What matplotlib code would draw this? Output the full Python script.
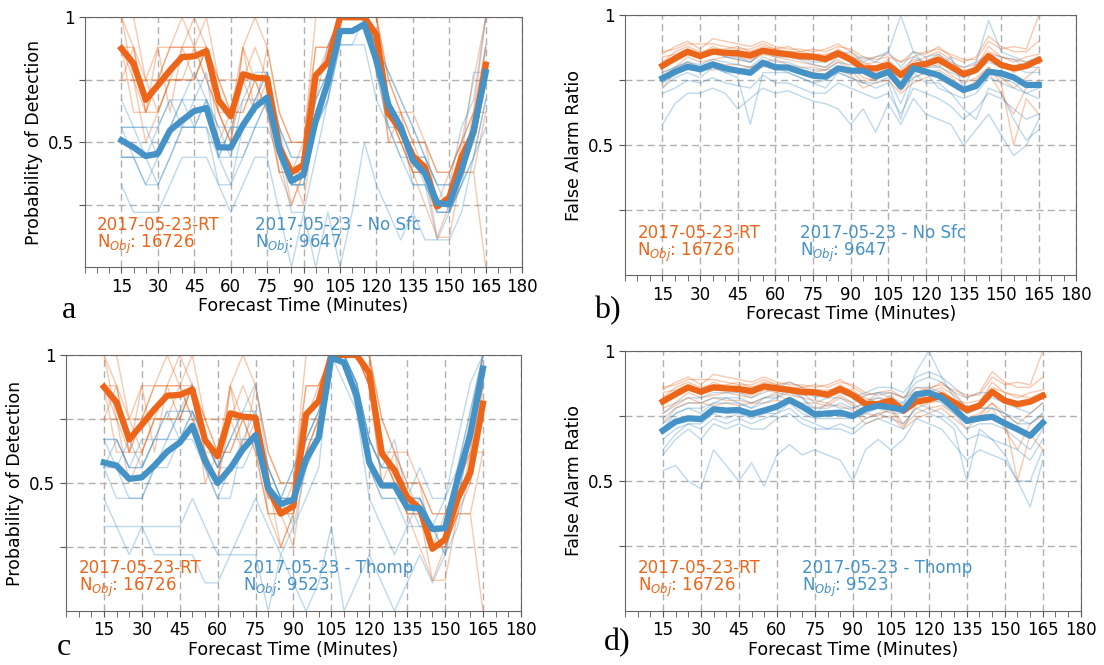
import numpy as np
import matplotlib
matplotlib.use("Agg")
import matplotlib.pyplot as plt
from matplotlib.ticker import MultipleLocator

# forecast times (minutes)
times = list(range(15, 170, 5))

ORANGE = '#EC6519'
BLUE = '#4592C6'

rt_label = '2017-05-23-RT'
rt_nobj = 16726
nosfc_label = '2017-05-23 - No Sfc'
nosfc_nobj = 9647
thomp_label = '2017-05-23 - Thomp'
thomp_nobj = 9523

# ---- Probability of Detection: ensemble means ----
pod_rt = [0.875, 0.815, 0.67, 0.728, 0.788, 0.841, 0.844, 0.865, 0.668, 0.604, 0.772, 0.759, 0.755, 0.48,
          0.38, 0.41, 0.768, 0.82, 1.0, 1.0, 1.0, 0.93, 0.615, 0.55, 0.445, 0.40, 0.243, 0.28, 0.44, 0.54, 0.81]
pod_nosfc = [0.508, 0.48, 0.445, 0.455, 0.548, 0.588, 0.625, 0.637, 0.48, 0.479, 0.568, 0.641, 0.679, 0.47,
             0.345, 0.372, 0.588, 0.741, 0.945, 0.945, 0.972, 0.828, 0.648, 0.561, 0.428, 0.375, 0.257, 0.252,
             0.388, 0.548, 0.781]
pod_thomp = [0.58, 0.568, 0.516, 0.522, 0.568, 0.622, 0.658, 0.723, 0.587, 0.50, 0.557, 0.632, 0.687, 0.48,
             0.418, 0.435, 0.594, 0.678, 0.99, 0.97, 0.84, 0.58, 0.49, 0.49, 0.405, 0.40, 0.32, 0.323, 0.516,
             0.69, 0.947]

# ---- Probability of Detection: members ----
pod_rt_mem = [
    [1.0, 1.0, 0.75, 0.88, 0.88, 1.0, 0.88, 1.0, 0.75, 0.62, 0.88, 1.0, 0.88, 0.62, 0.5, 0.5, 1.0, 1.0, 1.0, 1.0, 1.0, 1.0, 0.75, 0.62, 0.62, 0.5, 0.38, 0.38, 0.5, 0.75, 1.0],
    [0.88, 0.88, 0.62, 0.75, 0.88, 0.88, 0.88, 0.88, 0.62, 0.5, 0.75, 0.75, 0.75, 0.5, 0.38, 0.38, 0.75, 0.88, 1.0, 1.0, 1.0, 1.0, 0.62, 0.5, 0.5, 0.38, 0.25, 0.25, 0.5, 0.62, 1.0],
    [0.75, 0.75, 0.5, 0.62, 0.75, 0.75, 0.88, 0.75, 0.62, 0.5, 0.88, 0.62, 0.75, 0.38, 0.25, 0.38, 0.62, 0.75, 1.0, 1.0, 1.0, 0.88, 0.5, 0.5, 0.38, 0.38, 0.12, 0.25, 0.38, 0.5, 0.75],
    [1.0, 0.88, 0.75, 0.75, 0.88, 0.88, 1.0, 0.88, 0.75, 0.62, 0.75, 0.88, 0.75, 0.5, 0.38, 0.5, 0.88, 0.88, 1.0, 1.0, 1.0, 1.0, 0.62, 0.62, 0.5, 0.5, 0.25, 0.38, 0.5, 0.62, 0.88],
    [0.88, 0.75, 0.62, 0.62, 0.75, 0.75, 0.75, 0.88, 0.5, 0.62, 0.62, 0.75, 0.62, 0.38, 0.38, 0.25, 0.62, 0.75, 1.0, 1.0, 1.0, 0.88, 0.62, 0.5, 0.38, 0.25, 0.12, 0.12, 0.38, 0.38, 0.62],
    [0.75, 0.88, 0.62, 0.88, 0.62, 0.88, 0.75, 0.88, 0.75, 0.75, 0.75, 0.62, 0.88, 0.62, 0.5, 0.5, 0.88, 0.88, 1.0, 1.0, 1.0, 1.0, 0.75, 0.62, 0.5, 0.5, 0.38, 0.38, 0.5, 0.5, 0.88],
    [1.0, 0.75, 0.75, 0.62, 0.75, 0.88, 0.88, 0.75, 0.62, 0.5, 0.88, 0.75, 0.75, 0.5, 0.25, 0.38, 0.75, 0.75, 1.0, 1.0, 1.0, 0.88, 0.5, 0.62, 0.38, 0.38, 0.25, 0.25, 0.38, 0.62, 0.62],
    [0.88, 0.62, 0.62, 0.75, 0.75, 0.75, 0.75, 0.88, 0.62, 0.62, 0.62, 0.75, 0.62, 0.38, 0.38, 0.38, 0.62, 0.75, 1.0, 1.0, 1.0, 0.88, 0.62, 0.5, 0.38, 0.38, 0.25, 0.25, 0.38, 0.38, 0.0],
]
pod_nosfc_mem = [
    [0.56, 0.56, 0.44, 0.56, 0.67, 0.67, 0.78, 0.67, 0.56, 0.44, 0.67, 0.78, 0.78, 0.56, 0.44, 0.44, 0.67, 0.89, 1.0, 1.0, 1.0, 0.89, 0.78, 0.67, 0.56, 0.44, 0.33, 0.33, 0.56, 0.67, 1.0],
    [0.44, 0.44, 0.44, 0.33, 0.44, 0.56, 0.56, 0.56, 0.44, 0.44, 0.44, 0.56, 0.67, 0.44, 0.33, 0.33, 0.56, 0.67, 1.0, 1.0, 1.0, 0.78, 0.56, 0.44, 0.44, 0.33, 0.22, 0.22, 0.33, 0.44, 0.67],
    [0.67, 0.56, 0.56, 0.56, 0.67, 0.56, 0.67, 0.78, 0.44, 0.56, 0.67, 0.67, 0.78, 0.44, 0.22, 0.22, 0.44, 0.67, 0.89, 0.89, 0.89, 0.67, 0.56, 0.56, 0.33, 0.33, 0.22, 0.22, 0.33, 0.56, 0.78],
    [0.33, 0.22, 0.22, 0.22, 0.33, 0.44, 0.44, 0.44, 0.33, 0.22, 0.33, 0.44, 0.44, 0.22, 0.0, 0.22, 0.0, 0.22, 0.0, 0.22, 0.5, 0.33, 0.22, 0.11, 0.22, 0.11, 0.11, 0.22, 0.44, 0.78, 0.78],
    [0.44, 0.44, 0.33, 0.44, 0.56, 0.56, 0.56, 0.56, 0.33, 0.33, 0.44, 0.56, 0.56, 0.44, 0.33, 0.44, 0.67, 0.78, 1.0, 1.0, 1.0, 0.89, 0.67, 0.56, 0.44, 0.44, 0.33, 0.22, 0.33, 0.44, 0.67],
    [0.56, 0.44, 0.44, 0.44, 0.56, 0.67, 0.67, 0.67, 0.56, 0.56, 0.56, 0.67, 0.67, 0.56, 0.33, 0.33, 0.56, 0.78, 1.0, 1.0, 1.0, 0.78, 0.67, 0.56, 0.44, 0.44, 0.22, 0.22, 0.44, 0.56, 0.89],
    [0.44, 0.44, 0.33, 0.33, 0.44, 0.56, 0.56, 0.67, 0.44, 0.33, 0.56, 0.56, 0.67, 0.44, 0.33, 0.33, 0.56, 0.67, 0.89, 0.89, 1.0, 0.78, 0.56, 0.44, 0.33, 0.33, 0.11, 0.11, 0.22, 0.44, 0.56],
    [0.56, 0.56, 0.56, 0.44, 0.56, 0.67, 0.56, 0.67, 0.44, 0.56, 0.56, 0.67, 0.78, 0.56, 0.44, 0.44, 0.67, 0.78, 1.0, 1.0, 1.0, 0.89, 0.78, 0.67, 0.56, 0.44, 0.33, 0.33, 0.44, 0.56, 0.78],
]
pod_thomp_mem = [
    [0.67, 0.67, 0.56, 0.67, 0.67, 0.78, 0.78, 0.78, 0.67, 0.56, 0.67, 0.78, 0.78, 0.56, 0.44, 0.44, 0.67, 0.78, 1.0, 1.0, 0.89, 0.67, 0.56, 0.56, 0.44, 0.56, 0.44, 0.44, 0.67, 0.89, 1.0],
    [0.56, 0.56, 0.44, 0.44, 0.56, 0.56, 0.67, 0.67, 0.56, 0.44, 0.56, 0.56, 0.67, 0.44, 0.44, 0.33, 0.56, 0.67, 1.0, 1.0, 0.78, 0.56, 0.44, 0.44, 0.33, 0.33, 0.33, 0.22, 0.44, 0.67, 1.0],
    [0.44, 0.33, 0.33, 0.33, 0.33, 0.33, 0.33, 0.44, 0.33, 0.22, 0.22, 0.33, 0.44, 0.33, 0.22, 0.33, 0.44, 0.56, 1.0, 0.89, 0.78, 0.44, 0.33, 0.22, 0.33, 0.44, 0.33, 0.22, 0.44, 0.56, 0.78],
    [0.67, 0.56, 0.67, 0.56, 0.67, 0.78, 0.67, 0.78, 0.67, 0.56, 0.67, 0.67, 0.78, 0.56, 0.44, 0.56, 0.67, 0.78, 1.0, 1.0, 0.89, 0.67, 0.56, 0.56, 0.44, 0.44, 0.33, 0.33, 0.56, 0.78, 1.0],
    [0.33, 0.33, 0.22, 0.33, 0.22, 0.22, 0.22, 0.22, 0.11, 0.11, 0.22, 0.22, 0.22, 0.0, 0.22, 0.11, 0.0, 0.11, 0.33, 0.0, 0.11, 0.22, 0.11, 0.0, 0.11, 0.22, 0.11, 0.22, 0.33, 0.56, 0.78],
    [0.56, 0.67, 0.56, 0.56, 0.67, 0.67, 0.78, 0.78, 0.67, 0.56, 0.56, 0.67, 0.67, 0.56, 0.44, 0.44, 0.67, 0.67, 1.0, 1.0, 0.89, 0.67, 0.56, 0.56, 0.44, 0.44, 0.33, 0.33, 0.56, 0.67, 0.89],
    [0.56, 0.44, 0.44, 0.44, 0.56, 0.67, 0.67, 0.78, 0.56, 0.44, 0.44, 0.67, 0.67, 0.44, 0.44, 0.44, 0.56, 0.67, 1.0, 1.0, 0.89, 0.56, 0.44, 0.44, 0.44, 0.33, 0.33, 0.33, 0.44, 0.67, 0.89],
    [0.67, 0.67, 0.56, 0.56, 0.67, 0.67, 0.78, 0.89, 0.67, 0.56, 0.67, 0.78, 0.89, 0.56, 0.44, 0.56, 0.67, 0.78, 1.0, 1.0, 0.89, 0.67, 0.56, 0.67, 0.44, 0.44, 0.33, 0.44, 0.56, 0.78, 1.0],
]

# ---- False Alarm Ratio: ensemble means ----
far_rt = [0.806, 0.834, 0.86, 0.843, 0.86, 0.856, 0.854, 0.845, 0.864, 0.856, 0.85, 0.843, 0.841, 0.832, 0.854,
          0.83, 0.796, 0.796, 0.809, 0.77, 0.805, 0.813, 0.83, 0.802, 0.774, 0.79, 0.843, 0.809, 0.796, 0.805, 0.828]
far_nosfc = [0.758, 0.783, 0.802, 0.793, 0.811, 0.796, 0.787, 0.779, 0.818, 0.80, 0.799, 0.783, 0.768, 0.764,
             0.796, 0.787, 0.787, 0.764, 0.783, 0.726, 0.796, 0.783, 0.77, 0.741, 0.713, 0.728, 0.783, 0.777,
             0.761, 0.732, 0.732]
far_thomp = [0.694, 0.728, 0.741, 0.738, 0.776, 0.771, 0.773, 0.758, 0.771, 0.786, 0.812, 0.786, 0.756, 0.76,
             0.763, 0.75, 0.777, 0.79, 0.783, 0.773, 0.833, 0.84, 0.82, 0.779, 0.731, 0.741, 0.747, 0.722, 0.699,
             0.674, 0.724]

# ---- False Alarm Ratio: members ----
far_rt_mem = [
    [0.85, 0.88, 0.90, 0.87, 0.91, 0.90, 0.89, 0.88, 0.90, 0.88, 0.87, 0.87, 0.86, 0.87, 0.89, 0.86, 0.83, 0.84, 0.85, 0.82, 0.86, 0.85, 0.88, 0.84, 0.82, 0.84, 0.92, 0.88, 0.86, 0.86, 0.90],
    [0.78, 0.80, 0.84, 0.82, 0.83, 0.84, 0.83, 0.82, 0.85, 0.84, 0.83, 0.82, 0.81, 0.80, 0.83, 0.80, 0.76, 0.75, 0.78, 0.72, 0.78, 0.80, 0.81, 0.77, 0.74, 0.76, 0.80, 0.76, 0.72, 0.76, 0.80],
    [0.82, 0.86, 0.88, 0.86, 0.87, 0.87, 0.88, 0.86, 0.88, 0.87, 0.86, 0.86, 0.85, 0.84, 0.87, 0.84, 0.82, 0.80, 0.83, 0.78, 0.82, 0.84, 0.86, 0.83, 0.78, 0.80, 0.88, 0.84, 0.82, 0.84, 0.85],
    [0.76, 0.79, 0.82, 0.80, 0.82, 0.81, 0.81, 0.80, 0.82, 0.83, 0.81, 0.80, 0.80, 0.79, 0.82, 0.79, 0.74, 0.76, 0.77, 0.71, 0.76, 0.78, 0.79, 0.76, 0.72, 0.74, 0.78, 0.70, 0.62, 0.72, 0.75],
    [0.84, 0.85, 0.87, 0.85, 0.88, 0.86, 0.86, 0.86, 0.87, 0.86, 0.86, 0.85, 0.85, 0.85, 0.86, 0.85, 0.81, 0.82, 0.81, 0.79, 0.83, 0.82, 0.85, 0.81, 0.80, 0.81, 0.86, 0.84, 0.83, 0.82, 0.84],
    [0.80, 0.83, 0.85, 0.84, 0.85, 0.85, 0.84, 0.83, 0.86, 0.85, 0.84, 0.83, 0.83, 0.82, 0.84, 0.82, 0.79, 0.78, 0.80, 0.76, 0.80, 0.81, 0.82, 0.80, 0.76, 0.78, 0.84, 0.82, 0.78, 0.80, 0.82],
    [0.72, 0.78, 0.80, 0.80, 0.79, 0.80, 0.79, 0.80, 0.80, 0.81, 0.80, 0.79, 0.78, 0.79, 0.79, 0.77, 0.72, 0.74, 0.75, 0.70, 0.74, 0.76, 0.78, 0.74, 0.70, 0.75, 0.80, 0.74, 0.50, 0.68, 0.62],
    [0.86, 0.87, 0.89, 0.89, 0.89, 0.88, 0.87, 0.87, 0.89, 0.87, 0.88, 0.86, 0.87, 0.86, 0.88, 0.87, 0.84, 0.83, 0.84, 0.82, 0.84, 0.86, 0.87, 0.85, 0.83, 0.83, 0.90, 0.87, 0.88, 0.87, 1.0],
]
far_nosfc_mem = [
    [0.80, 0.83, 0.85, 0.84, 0.86, 0.84, 0.83, 0.82, 0.86, 0.84, 0.84, 0.83, 0.81, 0.80, 0.84, 0.83, 0.84, 0.82, 0.86, 0.80, 0.86, 0.84, 0.85, 0.82, 0.80, 0.82, 0.85, 0.84, 0.83, 0.80, 0.80],
    [0.70, 0.72, 0.75, 0.74, 0.76, 0.74, 0.73, 0.72, 0.77, 0.74, 0.74, 0.72, 0.70, 0.70, 0.74, 0.72, 0.70, 0.68, 0.70, 0.62, 0.72, 0.70, 0.68, 0.65, 0.60, 0.64, 0.70, 0.68, 0.64, 0.60, 0.62],
    [0.58, 0.66, 0.70, 0.70, 0.72, 0.70, 0.64, 0.68, 0.72, 0.70, 0.71, 0.69, 0.67, 0.66, 0.64, 0.58, 0.64, 0.55, 0.66, 0.58, 0.68, 0.62, 0.60, 0.58, 0.50, 0.56, 0.62, 0.54, 0.46, 0.50, 0.60],
    [0.78, 0.80, 0.82, 0.81, 0.83, 0.82, 0.81, 0.80, 0.84, 0.82, 0.82, 0.80, 0.79, 0.79, 0.82, 0.81, 0.80, 0.80, 0.82, 0.76, 0.84, 0.82, 0.80, 0.78, 0.76, 0.78, 0.82, 0.80, 0.80, 0.78, 0.78],
    [0.72, 0.76, 0.78, 0.76, 0.80, 0.78, 0.76, 0.58, 0.78, 0.78, 0.78, 0.76, 0.74, 0.72, 0.78, 0.76, 0.74, 0.72, 0.74, 0.60, 0.76, 0.78, 0.72, 0.70, 0.68, 0.70, 0.76, 0.74, 0.72, 0.70, 0.68],
    [0.80, 0.84, 0.86, 0.85, 0.86, 0.84, 0.84, 0.82, 0.86, 0.86, 0.85, 0.84, 0.82, 0.82, 0.85, 0.86, 0.82, 0.84, 0.86, 1.0, 0.86, 0.80, 0.80, 0.84, 0.72, 0.82, 0.98, 0.86, 0.84, 0.82, 0.84],
    [0.74, 0.77, 0.80, 0.78, 0.80, 0.78, 0.78, 0.77, 0.82, 0.80, 0.78, 0.76, 0.74, 0.75, 0.78, 0.76, 0.74, 0.74, 0.76, 0.66, 0.78, 0.74, 0.74, 0.70, 0.64, 0.60, 0.72, 0.70, 0.60, 0.52, 0.56],
    [0.76, 0.80, 0.82, 0.80, 0.82, 0.80, 0.79, 0.78, 0.82, 0.80, 0.80, 0.78, 0.76, 0.76, 0.80, 0.78, 0.78, 0.76, 0.78, 0.74, 0.80, 0.78, 0.76, 0.74, 0.72, 0.74, 0.78, 0.76, 0.74, 0.70, 0.72],
]
far_thomp_mem = [
    [0.74, 0.78, 0.80, 0.80, 0.82, 0.82, 0.82, 0.80, 0.82, 0.84, 0.86, 0.84, 0.80, 0.82, 0.82, 0.80, 0.83, 0.84, 0.84, 0.82, 0.88, 0.90, 0.88, 0.84, 0.78, 0.80, 0.82, 0.80, 0.78, 0.76, 0.80],
    [0.60, 0.66, 0.70, 0.66, 0.72, 0.70, 0.72, 0.70, 0.70, 0.74, 0.76, 0.72, 0.70, 0.70, 0.70, 0.68, 0.72, 0.74, 0.72, 0.70, 0.80, 0.78, 0.76, 0.72, 0.66, 0.68, 0.66, 0.64, 0.62, 0.58, 0.66],
    [0.54, 0.56, 0.50, 0.47, 0.62, 0.56, 0.50, 0.57, 0.48, 0.60, 0.64, 0.60, 0.62, 0.60, 0.58, 0.50, 0.62, 0.66, 0.62, 0.66, 0.74, 0.72, 0.70, 0.64, 0.58, 0.62, 0.60, 0.58, 0.50, 0.40, 0.58],
    [0.72, 0.76, 0.78, 0.78, 0.80, 0.80, 0.80, 0.78, 0.80, 0.82, 0.84, 0.82, 0.78, 0.78, 0.80, 0.78, 0.80, 0.82, 0.80, 0.80, 0.86, 0.86, 0.84, 0.80, 0.76, 0.78, 0.78, 0.76, 0.74, 0.72, 0.76],
    [0.66, 0.70, 0.72, 0.72, 0.76, 0.74, 0.76, 0.74, 0.76, 0.76, 0.80, 0.76, 0.74, 0.74, 0.74, 0.74, 0.76, 0.78, 0.76, 0.76, 0.82, 0.82, 0.80, 0.76, 0.70, 0.72, 0.72, 0.70, 0.66, 0.62, 0.70],
    [0.70, 0.76, 0.78, 0.76, 0.80, 0.82, 0.80, 0.78, 0.82, 0.82, 0.86, 0.82, 0.76, 0.80, 0.78, 0.78, 0.80, 0.84, 0.82, 0.80, 0.92, 1.0, 0.90, 0.82, 0.76, 0.78, 0.78, 0.76, 0.72, 0.72, 0.76],
    [0.62, 0.68, 0.72, 0.70, 0.74, 0.72, 0.74, 0.72, 0.74, 0.76, 0.78, 0.74, 0.72, 0.70, 0.72, 0.70, 0.74, 0.76, 0.74, 0.72, 0.78, 0.76, 0.74, 0.70, 0.50, 0.70, 0.66, 0.60, 0.50, 0.50, 0.62],
    [0.76, 0.80, 0.82, 0.82, 0.84, 0.84, 0.84, 0.82, 0.84, 0.86, 0.88, 0.86, 0.82, 0.84, 0.84, 0.82, 0.84, 0.86, 0.86, 0.84, 0.90, 0.92, 0.90, 0.86, 0.82, 0.84, 0.84, 0.82, 0.80, 0.80, 0.84],
]

fig = plt.figure(figsize=(11.04, 6.65), dpi=100)

# axes rectangles (left, bottom, width, height) in figure fractions
panels = [
    dict(rect=[0.077, 0.598, 0.396, 0.376], ylabel='Probability of Detection',
         rt=pod_rt, rt_mem=pod_rt_mem, ex=pod_nosfc, ex_mem=pod_nosfc_mem,
         ex_label=nosfc_label, ex_nobj=nosfc_nobj, letter='a', lpos=(62, 318)),
    dict(rect=[0.566, 0.586, 0.409, 0.391], ylabel='False Alarm Ratio',
         rt=far_rt, rt_mem=far_rt_mem, ex=far_nosfc, ex_mem=far_nosfc_mem,
         ex_label=nosfc_label, ex_nobj=nosfc_nobj, letter='b)', lpos=(594, 318)),
    dict(rect=[0.0598, 0.0812, 0.412, 0.385], ylabel='Probability of Detection',
         rt=pod_rt, rt_mem=pod_rt_mem, ex=pod_thomp, ex_mem=pod_thomp_mem,
         ex_label=thomp_label, ex_nobj=thomp_nobj, letter='c', lpos=(57, 655)),
    dict(rect=[0.566, 0.0812, 0.413, 0.391], ylabel='False Alarm Ratio',
         rt=far_rt, rt_mem=far_rt_mem, ex=far_thomp, ex_mem=far_thomp_mem,
         ex_label=thomp_label, ex_nobj=thomp_nobj, letter='d)', lpos=(604, 650)),
]

for p in panels:
    ax = fig.add_axes(p['rect'])
    for m in p['rt_mem']:
        ax.plot(times, m, color=ORANGE, lw=1.0, alpha=0.35)
    for m in p['ex_mem']:
        ax.plot(times, m, color=BLUE, lw=1.0, alpha=0.35)
    ax.plot(times, p['rt'], color=ORANGE, lw=4.5, solid_joinstyle='round')
    ax.plot(times, p['ex'], color=BLUE, lw=4.5, solid_joinstyle='round')

    ax.set_xlim(0, 180)
    ax.set_ylim(0, 1)
    ax.set_xticks(range(15, 181, 15))
    ax.xaxis.set_minor_locator(MultipleLocator(5))
    ax.set_yticks([0.25, 0.5, 0.75, 1.0])
    ax.set_yticklabels(['', '0.5', '', '1'])
    ax.tick_params(axis='both', which='both', labelsize=12, color='#555555', length=4)
    for s in ax.spines.values():
        s.set_color('#666666')
    ax.grid(True, which='major', color='#b0b0b0', linestyle=(0, (5, 3)), lw=1)
    ax.set_axisbelow(True)
    ax.set_xlabel('Forecast Time (Minutes)', fontsize=12.5, labelpad=1)
    ax.set_ylabel(p['ylabel'], fontsize=12.5)

    ax.text(5, 0.045, rt_label + '\n' + r'N$_{Obj}$: ' + str(rt_nobj), color=ORANGE,
            fontsize=12, va='bottom', ha='left', linespacing=0.92)
    ax.text(70, 0.045, p['ex_label'] + '\n' + r'N$_{Obj}$: ' + str(p['ex_nobj']), color=BLUE,
            fontsize=12, va='bottom', ha='left', linespacing=0.92)

    lx, ly = p['lpos']
    fig.text(lx / 1104, 1 - ly / 665, p['letter'], family='Liberation Serif', fontsize=23,
             va='baseline', ha='left')

fig.savefig('out.png', dpi=100)
